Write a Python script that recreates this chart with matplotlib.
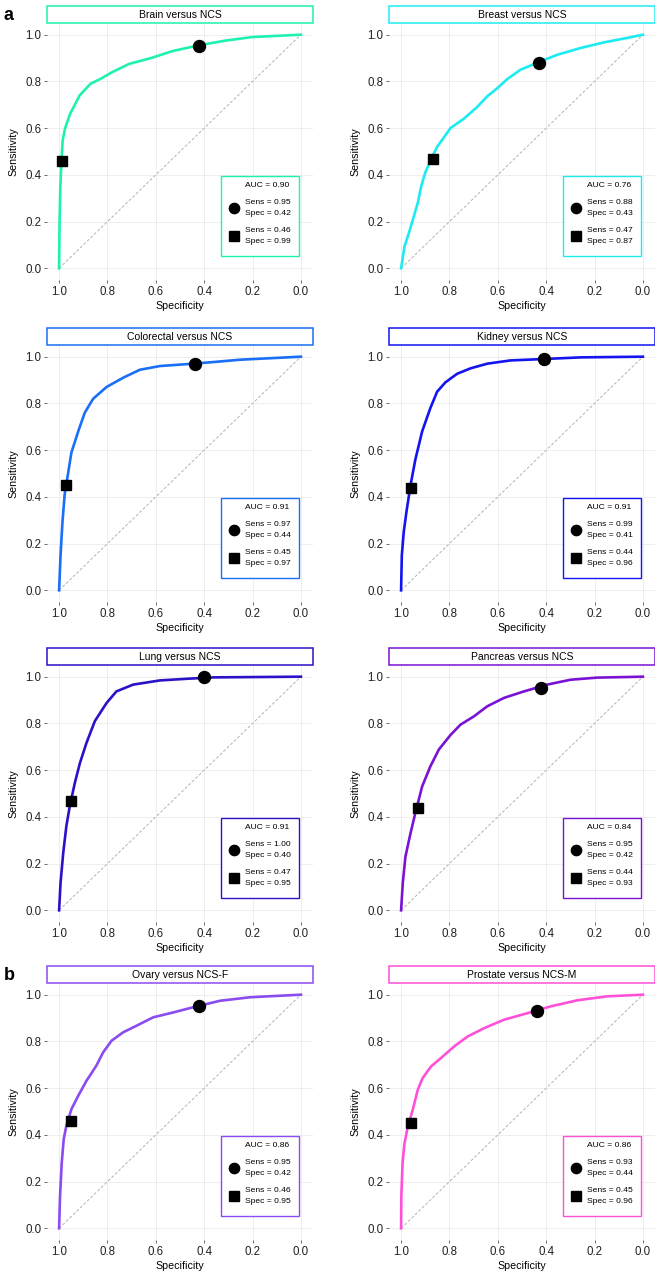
import matplotlib
matplotlib.use("Agg")
from matplotlib import pyplot as plt
from matplotlib.patches import Rectangle

plt.rcParams['font.family'] = ['Liberation Sans', 'DejaVu Sans']

# panel titles, colours and summary numbers
titles = ['Brain versus NCS', 'Breast versus NCS', 'Colorectal versus NCS', 'Kidney versus NCS',
          'Lung versus NCS', 'Pancreas versus NCS', 'Ovary versus NCS-F', 'Prostate versus NCS-M']
colors = ['#1DF2B0', '#1CECF2', '#1A6EF7', '#1414F0', '#2A12C8', '#7A12D6', '#8A4BF0', '#FF50D8']
auc = [0.90, 0.76, 0.91, 0.91, 0.91, 0.84, 0.86, 0.86]
sens_hi = [0.95, 0.88, 0.97, 0.99, 1.00, 0.95, 0.95, 0.93]
spec_hi = [0.42, 0.43, 0.44, 0.41, 0.40, 0.42, 0.42, 0.44]
sens_lo = [0.46, 0.47, 0.45, 0.44, 0.47, 0.44, 0.46, 0.45]
spec_lo = [0.99, 0.87, 0.97, 0.96, 0.95, 0.93, 0.95, 0.96]

# ROC curves (specificity, sensitivity)
brain_spec = [1.0, 0.998, 0.995, 0.99, 0.985, 0.975, 0.955, 0.915, 0.87, 0.83, 0.78, 0.71, 0.62, 0.53, 0.42, 0.31, 0.2, 0.0]
brain_sens = [0.0, 0.2, 0.35, 0.46, 0.55, 0.6, 0.66, 0.74, 0.79, 0.81, 0.84, 0.875, 0.9, 0.93, 0.955, 0.975, 0.99, 1.0]

breast_spec = [1.0, 0.986, 0.968, 0.948, 0.931, 0.917, 0.9, 0.879, 0.851, 0.823, 0.796, 0.741, 0.686, 0.644, 0.603,
               0.561, 0.506, 0.437, 0.354, 0.258, 0.161, 0.065, 0.0]
breast_sens = [0.0, 0.093, 0.15, 0.22, 0.28, 0.35, 0.41, 0.46, 0.52, 0.56, 0.6, 0.64, 0.69, 0.736, 0.77,
               0.81, 0.85, 0.88, 0.914, 0.943, 0.967, 0.986, 1.0]

colo_spec = [1.0, 0.994, 0.986, 0.977, 0.966, 0.949, 0.921, 0.894, 0.859, 0.804, 0.735, 0.666, 0.583, 0.472, 0.362, 0.252, 0.0]
colo_sens = [0.0, 0.15, 0.293, 0.41, 0.48, 0.59, 0.68, 0.76, 0.82, 0.87, 0.91, 0.944, 0.96, 0.968, 0.977, 0.987, 1.0]

kid_spec = [1.0, 0.997, 0.989, 0.978, 0.961, 0.941, 0.913, 0.879, 0.851, 0.817, 0.768, 0.713, 0.644, 0.548, 0.41, 0.258, 0.0]
kid_sens = [0.0, 0.15, 0.25, 0.335, 0.45, 0.56, 0.68, 0.78, 0.85, 0.89, 0.927, 0.95, 0.97, 0.984, 0.99, 0.997, 1.0]

lung_spec = [1.0, 0.994, 0.983, 0.97, 0.956, 0.935, 0.914, 0.887, 0.852, 0.804, 0.763, 0.694, 0.583, 0.472, 0.362, 0.0]
lung_sens = [0.0, 0.117, 0.245, 0.36, 0.445, 0.545, 0.63, 0.716, 0.81, 0.887, 0.937, 0.966, 0.984, 0.991, 0.997, 1.0]

panc_spec = [1.0, 0.993, 0.982, 0.961, 0.941, 0.913, 0.879, 0.844, 0.796, 0.754, 0.699, 0.644, 0.575, 0.492, 0.396, 0.299, 0.189, 0.0]
panc_sens = [0.0, 0.117, 0.23, 0.33, 0.417, 0.53, 0.616, 0.688, 0.75, 0.795, 0.83, 0.873, 0.909, 0.937, 0.966, 0.987, 0.996, 1.0]

ovary_spec = [1.0, 0.996, 0.989, 0.981, 0.97, 0.949, 0.921, 0.887, 0.846, 0.818, 0.783, 0.735, 0.68, 0.611, 0.528, 0.431, 0.334, 0.21, 0.0]
ovary_sens = [0.0, 0.139, 0.281, 0.381, 0.439, 0.51, 0.567, 0.631, 0.696, 0.753, 0.803, 0.839, 0.867, 0.903, 0.924, 0.95, 0.974, 0.989, 1.0]

prost_spec = [1.0, 0.999, 0.994, 0.986, 0.972, 0.952, 0.931, 0.911, 0.876, 0.835, 0.78, 0.725, 0.656, 0.574, 0.477, 0.381, 0.271, 0.147, 0.0]
prost_sens = [0.0, 0.136, 0.279, 0.364, 0.436, 0.507, 0.593, 0.643, 0.693, 0.729, 0.779, 0.821, 0.857, 0.893, 0.921, 0.95, 0.976, 0.993, 1.0]

curves = [(brain_spec, brain_sens), (breast_spec, breast_sens), (colo_spec, colo_sens), (kid_spec, kid_sens),
          (lung_spec, lung_sens), (panc_spec, panc_sens), (ovary_spec, ovary_sens), (prost_spec, prost_sens)]

ticks = [0.0, 0.2, 0.4, 0.6, 0.8, 1.0]

W, H = 655, 1279
fig = plt.figure(figsize=(W / 100, H / 100), dpi=100)

col_left = [47, 389]
row_top = [23, 345, 665, 983]
aw, ah = 266, 257
strip_h = 17

for i in range(8):
    r, c = divmod(i, 2)
    x0 = col_left[c] / W
    y0 = 1 - (row_top[r] + ah) / H
    ax = fig.add_axes([x0, y0, aw / W, ah / H])
    col = colors[i]

    ax.plot([1, 0], [0, 1], ls=(0, (3, 2)), color='#B3B3B3', lw=0.7, zorder=1)
    sx, sy = curves[i]
    ax.plot(sx, sy, color=col, lw=1.9, zorder=2, solid_joinstyle='round')
    ax.plot(spec_hi[i], sens_hi[i], 'o', color='black', ms=8.6, zorder=3)
    ax.plot(spec_lo[i], sens_lo[i], 's', color='black', ms=7.2, zorder=3)

    ax.set_xlim(1.05, -0.05)
    ax.set_ylim(-0.05, 1.05)
    ax.set_xticks(ticks)
    ax.set_yticks(ticks)
    ax.set_xticklabels(['%.1f' % t for t in ticks])
    ax.set_yticklabels(['%.1f' % t for t in ticks])
    ax.grid(color='#EBEBEB', lw=0.6)
    ax.set_axisbelow(True)
    for s in ax.spines.values():
        s.set_visible(False)
    ax.tick_params(length=2.2, width=0.5, color='#333333', labelsize=8.3, labelcolor='#222222', pad=2)
    ax.set_xlabel('Specificity', fontsize=7.7, labelpad=2)
    ax.set_ylabel('Sensitivity', fontsize=7.7, labelpad=5)

    # facet strip
    sh = strip_h / ah
    ax.add_patch(Rectangle((0, 1.0), 1, sh, transform=ax.transAxes, facecolor='white',
                           edgecolor=col, lw=1.1, clip_on=False))
    ax.text(0.5, 1.0 + sh / 2, titles[i], transform=ax.transAxes, ha='center', va='center', fontsize=7.5)

    # inset legend
    ax.add_patch(Rectangle((0.656, 0.094), 0.291, 0.311, transform=ax.transAxes, facecolor='white',
                           edgecolor=col, lw=1.0, zorder=4))
    ax.text(0.745, 0.366, 'AUC = %.2f' % auc[i], transform=ax.transAxes, fontsize=6.1, va='center', zorder=5)
    ax.plot(0.704, 0.279, 'o', color='black', ms=7.4, transform=ax.transAxes, zorder=5, clip_on=False)
    ax.text(0.745, 0.301, 'Sens = %.2f' % sens_hi[i], transform=ax.transAxes, fontsize=6.1, va='center', zorder=5)
    ax.text(0.745, 0.260, 'Spec = %.2f' % spec_hi[i], transform=ax.transAxes, fontsize=6.1, va='center', zorder=5)
    ax.plot(0.704, 0.171, 's', color='black', ms=6.5, transform=ax.transAxes, zorder=5, clip_on=False)
    ax.text(0.745, 0.192, 'Sens = %.2f' % sens_lo[i], transform=ax.transAxes, fontsize=6.1, va='center', zorder=5)
    ax.text(0.745, 0.151, 'Spec = %.2f' % spec_lo[i], transform=ax.transAxes, fontsize=6.1, va='center', zorder=5)

fig.text(4 / W, 1 - 16 / H, 'a', fontsize=13, fontweight='bold', va='center', ha='left')
fig.text(4 / W, 1 - 975 / H, 'b', fontsize=13, fontweight='bold', va='center', ha='left')

plt.savefig('out.png', dpi=100)
